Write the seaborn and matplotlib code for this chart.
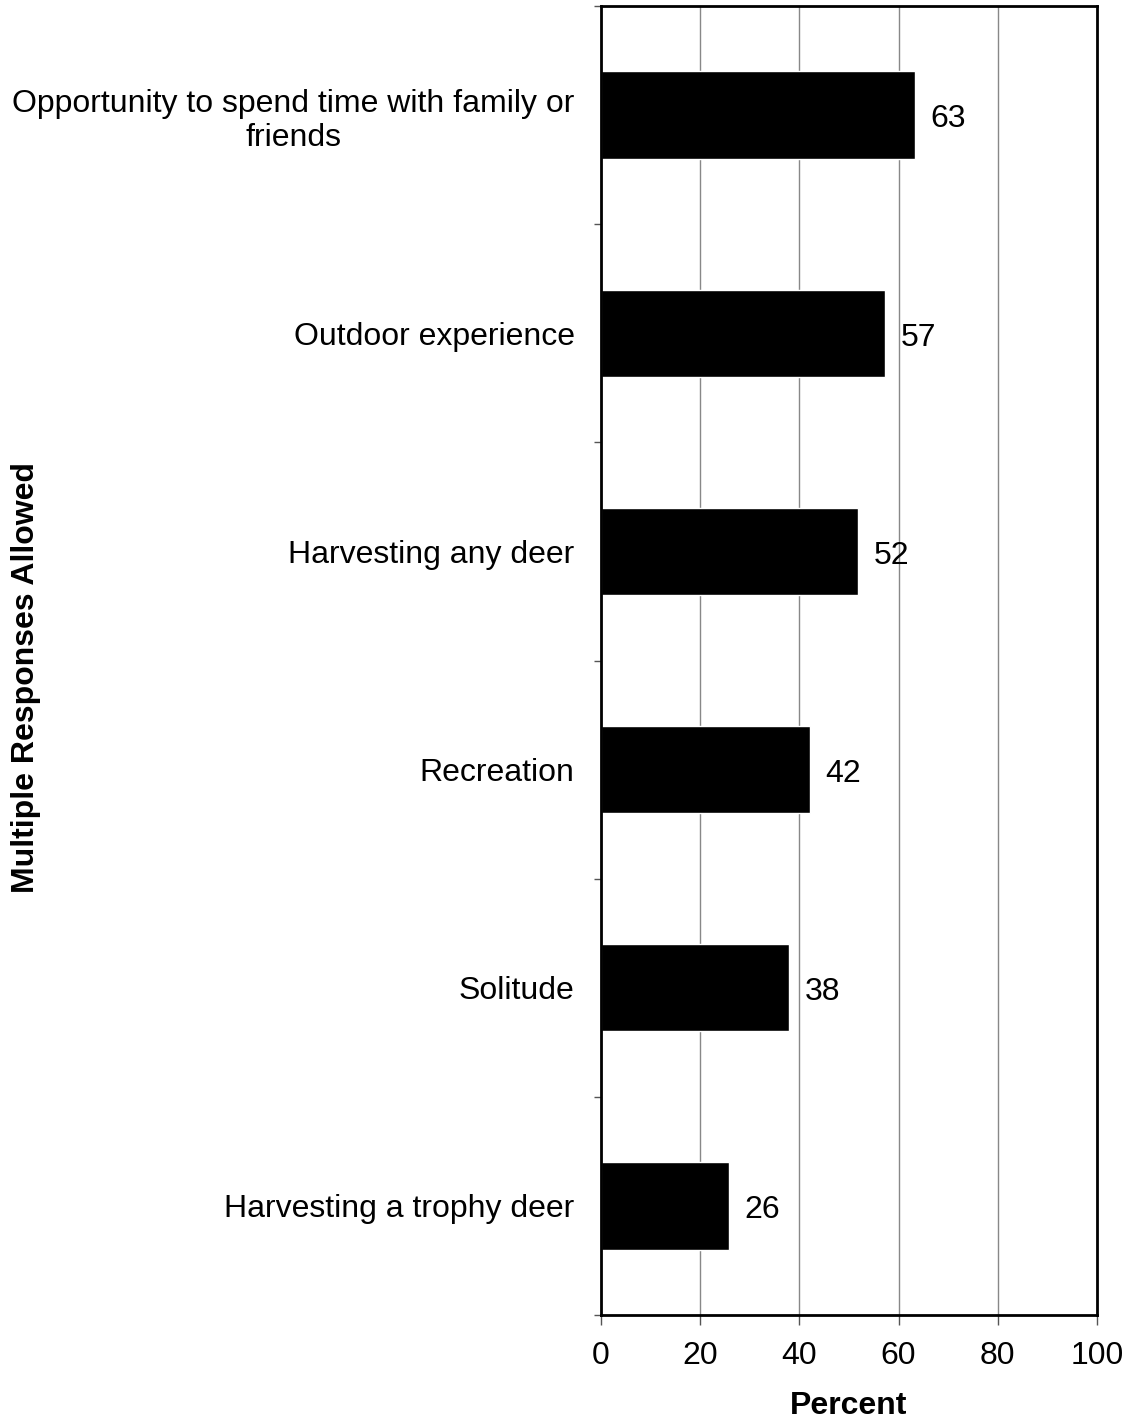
import numpy as np
import matplotlib.pyplot as plt
import seaborn as sns
import pandas as pd
from matplotlib.ticker import FixedLocator

# -----------------------------
# Data
# -----------------------------
reasons = [
    "Opportunity to spend time with family or\nfriends",
    "Outdoor experience",
    "Harvesting any deer",
    "Recreation",
    "Solitude",
    "Harvesting a trophy deer",
]
percent = [63.3, 57.3, 51.8, 42.1, 37.9, 25.8]
labels = ["63", "57", "52", "42", "38", "26"]

data = pd.DataFrame({"reason": reasons, "percent": percent})

# -----------------------------
# Plot
# -----------------------------
sns.set_style("white")
plt.rcParams["font.family"] = ["Liberation Sans", "DejaVu Sans"]
plt.rcParams["text.color"] = "black"
plt.rcParams["axes.labelcolor"] = "black"
plt.rcParams["xtick.color"] = "black"
plt.rcParams["ytick.color"] = "black"

fig = plt.figure(figsize=(11.28, 14.22), dpi=100)
ax = fig.add_axes([0.5328, 0.0752, 0.4397, 0.9206])

sns.barplot(data=data, x="percent", y="reason", orient="h",
            color="black", width=0.4, saturation=1, ax=ax)

for i, (v, t) in enumerate(zip(percent, labels)):
    ax.text(v + 3.2, i + 0.02, t, va="center", ha="left", fontsize=23)

ax.set_xlim(0, 100)
ax.set_ylim(5.5, -0.5)
ax.set_xticks([0, 20, 40, 60, 80, 100])
ax.tick_params(axis="x", labelsize=23, length=7, width=1, direction="out",
               bottom=True, pad=12, color="#555555")
ax.tick_params(axis="y", which="major", length=0, labelsize=23, pad=19)
ax.yaxis.set_minor_locator(FixedLocator(np.arange(-0.5, 6.0, 1.0)))
ax.tick_params(axis="y", which="minor", length=5, width=1, direction="out",
               left=True, color="#555555")
for lab in ax.get_yticklabels():
    lab.set_multialignment("center")

ax.xaxis.grid(True, color="#888888", linewidth=1)
ax.set_axisbelow(True)
for s in ax.spines.values():
    s.set_visible(True)
    s.set_color("black")
    s.set_linewidth(2)

ax.set_xlabel("Percent", fontsize=23, fontweight="bold", labelpad=14)
ax.set_ylabel("Multiple Responses Allowed", fontsize=23, fontweight="bold")
ax.yaxis.set_label_coords(-1.13, 0.487)

fig.savefig("out.png", dpi=100)
